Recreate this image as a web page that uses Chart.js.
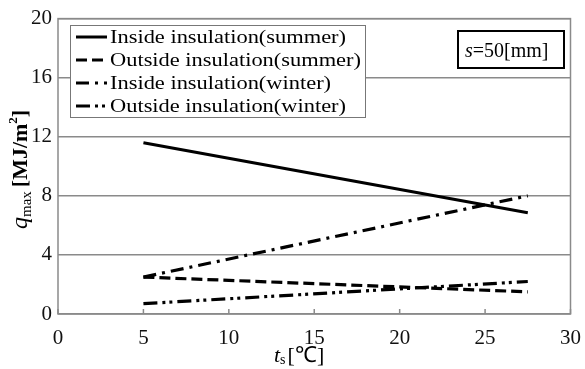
<!DOCTYPE html>
<html>
<head>
  <meta charset="utf-8" />
  <title>Maximum heat flux vs surface temperature</title>
  <script src="https://cdn.jsdelivr.net/npm/chart.js"></script>
  <style>
    html, body { margin: 0; padding: 0; background: #fff; }
    #wrap { width: 585px; height: 369px; }
  </style>
</head>
<body>
  <div id="wrap"><canvas id="qmaxChart" width="585" height="369"></canvas></div>

  <script>
    // Surface temperature t_s [°C] at both ends of each line
    const tsValues = [5, 27.5];

    // q_max [MJ/m2] for each case
    const insideSummer  = [11.6, 6.85];
    const outsideSummer = [2.5, 1.5];
    const insideWinter  = [2.5, 8.0];
    const outsideWinter = [0.7, 2.2];

    const seriesLabels = [
      'Inside insulation(summer)',
      'Outside insulation(summer)',
      'Inside insulation(winter)',
      'Outside insulation(winter)'
    ];

    const xTicks = [0, 5, 10, 15, 20, 25, 30];
    const yTicks = [0, 4, 8, 12, 16, 20];

    const SERIF = "'Liberation Serif', 'Times New Roman', serif";
    const GRID = '#8a8a8a';

    function toPoints(ys) {
      return ys.map((y, i) => ({ x: tsValues[i], y: y }));
    }

    const dashes = [
      [],
      [11, 5],
      [13, 6, 3, 6],
      [14, 5, 3, 4, 3, 5]
    ];
    const seriesData = [insideSummer, outsideSummer, insideWinter, outsideWinter];

    const datasets = seriesData.map((ys, i) => ({
      label: seriesLabels[i],
      data: toPoints(ys),
      borderColor: '#000',
      borderWidth: i === 0 ? 3 : 3.2,
      borderDash: dashes[i],
      pointRadius: 0,
      fill: false,
      tension: 0
    }));

    // Frame, inward x ticks, axis titles, legend box and the s=50 note
    const decorations = {
      id: 'decorations',
      afterDraw(chart) {
        const ctx = chart.ctx;
        const area = chart.chartArea;
        const xs = chart.scales.x;

        ctx.save();
        // plot frame
        ctx.strokeStyle = GRID;
        ctx.lineWidth = 1.5;
        ctx.strokeRect(area.left, area.top, area.right - area.left, area.bottom - area.top);

        // small inward ticks on the x axis
        xTicks.forEach(v => {
          const px = xs.getPixelForValue(v);
          ctx.beginPath();
          ctx.moveTo(px, area.bottom);
          ctx.lineTo(px, area.bottom - 5);
          ctx.stroke();
        });

        // legend
        const lx = 70, ly = 25, lw = 295, lh = 92;
        ctx.fillStyle = '#fff';
        ctx.fillRect(lx, ly, lw, lh);
        ctx.strokeStyle = '#777';
        ctx.lineWidth = 1;
        ctx.strokeRect(lx + 0.5, ly + 0.5, lw, lh);
        const rows = [37, 60, 83, 106];
        ctx.font = '19px ' + SERIF;
        // the legend text is set a little wider than the font's natural width
        const widest = Math.max(...chart.data.datasets.map(d => ctx.measureText(d.label).width));
        const stretch = 251 / widest;
        chart.data.datasets.forEach((ds, i) => {
          const y = rows[i];
          ctx.strokeStyle = '#000';
          ctx.lineWidth = 3;
          ctx.setLineDash(ds.borderDash);
          ctx.beginPath();
          ctx.moveTo(76, y);
          ctx.lineTo(107, y);
          ctx.stroke();
          ctx.setLineDash([]);
          ctx.fillStyle = '#000';
          ctx.font = '19px ' + SERIF;
          ctx.textBaseline = 'middle';
          ctx.textAlign = 'left';
          ctx.save();
          ctx.translate(110, y + 1);
          ctx.scale(stretch, 1);
          ctx.fillText(ds.label, 0, 0);
          ctx.restore();
        });

        // s=50[mm] note
        ctx.strokeStyle = '#000';
        ctx.lineWidth = 2;
        ctx.strokeRect(458, 31, 106, 37);
        ctx.textBaseline = 'alphabetic';
        ctx.font = 'italic 20px ' + SERIF;
        ctx.fillText('s', 465, 57);
        let w = ctx.measureText('s').width;
        ctx.font = '20px ' + SERIF;
        ctx.fillText('=50[mm]', 465 + w, 57);

        // x axis title: t_s [℃]
        let x = 274;
        const by = 362;
        ctx.font = 'italic 22px ' + SERIF;
        ctx.fillText('t', x, by);
        x += ctx.measureText('t').width;
        ctx.font = '14px ' + SERIF;
        ctx.fillText('s', x, by + 2);
        x += ctx.measureText('s').width + 2;
        ctx.font = '22px ' + SERIF;
        ctx.fillText('[℃]', x, by);

        // y axis title: q_max [MJ/m²], rotated
        ctx.translate(27, 229);
        ctx.rotate(-Math.PI / 2);
        x = 0;
        ctx.font = 'italic 24px ' + SERIF;
        ctx.fillText('q', x, 0);
        x += ctx.measureText('q').width;
        ctx.font = '15px ' + SERIF;
        ctx.fillText('max', x, 4);
        x += ctx.measureText('max').width + 4;
        ctx.font = 'bold 22px ' + SERIF;
        ctx.fillText('[MJ/m', x, 0);
        x += ctx.measureText('[MJ/m').width;
        ctx.font = 'bold 13px ' + SERIF;
        ctx.fillText('2', x, -10);
        x += ctx.measureText('2').width;
        ctx.font = 'bold 22px ' + SERIF;
        ctx.fillText(']', x, 0);
        ctx.restore();
      }
    };

    const ctx = document.getElementById('qmaxChart').getContext('2d');
    new Chart(ctx, {
      type: 'line',
      data: { datasets: datasets },
      options: {
        responsive: false,
        animation: false,
        layout: { padding: { top: 15, right: 13, left: 0, bottom: 0 } },
        plugins: {
          legend: { display: false },
          tooltip: { enabled: false }
        },
        scales: {
          x: {
            type: 'linear',
            min: 0,
            max: 30,
            afterBuildTicks(scale) {
              scale.ticks = xTicks.map(v => ({ value: v }));
            },
            afterFit(scale) { scale.height = 55; },
            grid: { display: false },
            border: { display: false },
            ticks: {
              color: '#111',
              font: { family: SERIF, size: 21 },
              padding: 4,
              maxRotation: 0
            }
          },
          y: {
            min: 0,
            max: 20,
            afterBuildTicks(scale) {
              scale.ticks = yTicks.map(v => ({ value: v }));
            },
            afterFit(scale) { scale.width = 58; },
            grid: { color: GRID, lineWidth: 1.5, tickLength: 0 },
            border: { display: false },
            ticks: {
              color: '#111',
              font: { family: SERIF, size: 21 },
              padding: 6
            }
          }
        }
      },
      plugins: [decorations]
    });
  </script>
</body>
</html>
